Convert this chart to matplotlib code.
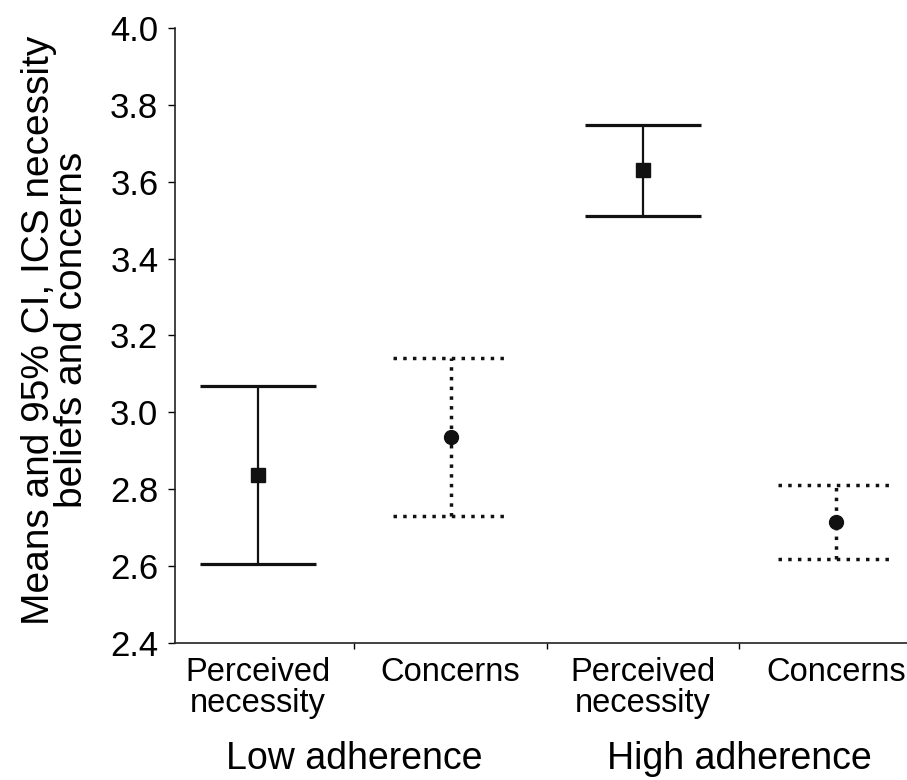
import matplotlib
matplotlib.use("Agg")
import matplotlib.pyplot as plt
import matplotlib.transforms as mtransforms

# Data
categories = ["Perceived\nnecessity", "Concerns", "Perceived\nnecessity", "Concerns"]
groups = ["Low adherence", "High adherence"]
means = [2.836, 2.935, 3.631, 2.713]
lower = [2.606, 2.729, 3.511, 2.619]
upper = [3.068, 3.141, 3.749, 2.810]
kinds = ["necessity", "concerns", "necessity", "concerns"]

plt.rcParams['font.family'] = ['Liberation Sans', 'DejaVu Sans']

fig = plt.figure(figsize=(9.07, 7.80), dpi=100)
ax = fig.add_axes([0.193, 0.176, 0.807, 0.788])

x = [1, 2, 3, 4]
cap = 0.30
dot = (0, (1, 1.8))
ink = '#111111'
for xi, m, lo, hi, k in zip(x, means, lower, upper, kinds):
    if k == "necessity":
        ax.vlines(xi, lo, hi, color=ink, lw=1.6)
        ax.hlines([lo, hi], xi - cap, xi + cap, color=ink, lw=2.3)
        ax.plot(xi, m, marker='s', ms=9.5, color=ink, zorder=3)
    else:
        ax.vlines(xi, lo, hi, color=ink, lw=2.5, linestyles=[dot])
        ax.hlines([lo, hi], xi - cap, xi + cap, color=ink, lw=2.5, linestyles=[dot])
        ax.plot(xi, m, marker='o', ms=10, color=ink, zorder=3)

ax.set_xlim(0.569, 4.37)
ax.set_ylim(2.4, 4.0)
yticks = [2.4, 2.6, 2.8, 3.0, 3.2, 3.4, 3.6, 3.8, 4.0]
ax.set_yticks(yticks)
ax.set_yticklabels([f"{v:.1f}" for v in yticks], fontsize=25)

ax.set_xticks(x)
ax.set_xticklabels(categories, fontsize=23.5, linespacing=1.0)
ax.tick_params(axis='x', which='major', length=0, pad=10)
ax.set_xticks([1.5, 2.5, 3.5], minor=True)
ax.tick_params(axis='x', which='minor', length=4, width=1, direction='out')
ax.tick_params(axis='y', length=5, width=1, direction='out', pad=7)

for s in ['top', 'right']:
    ax.spines[s].set_visible(False)
for s in ['left', 'bottom']:
    ax.spines[s].set_linewidth(1.2)
    ax.spines[s].set_color('#222222')

fig.text(0.061, 0.577, "Means and 95% CI, ICS necessity\nbeliefs and concerns",
         rotation=90, ha='center', va='center', multialignment='center',
         fontsize=28, linespacing=0.9)

trans = mtransforms.blended_transform_factory(ax.transData, fig.transFigure)
for gx, g in zip([1.5, 3.5], groups):
    ax.text(gx, 0.027, g, transform=trans, ha='center', va='center', fontsize=27)

fig.savefig("out.png", dpi=100)
